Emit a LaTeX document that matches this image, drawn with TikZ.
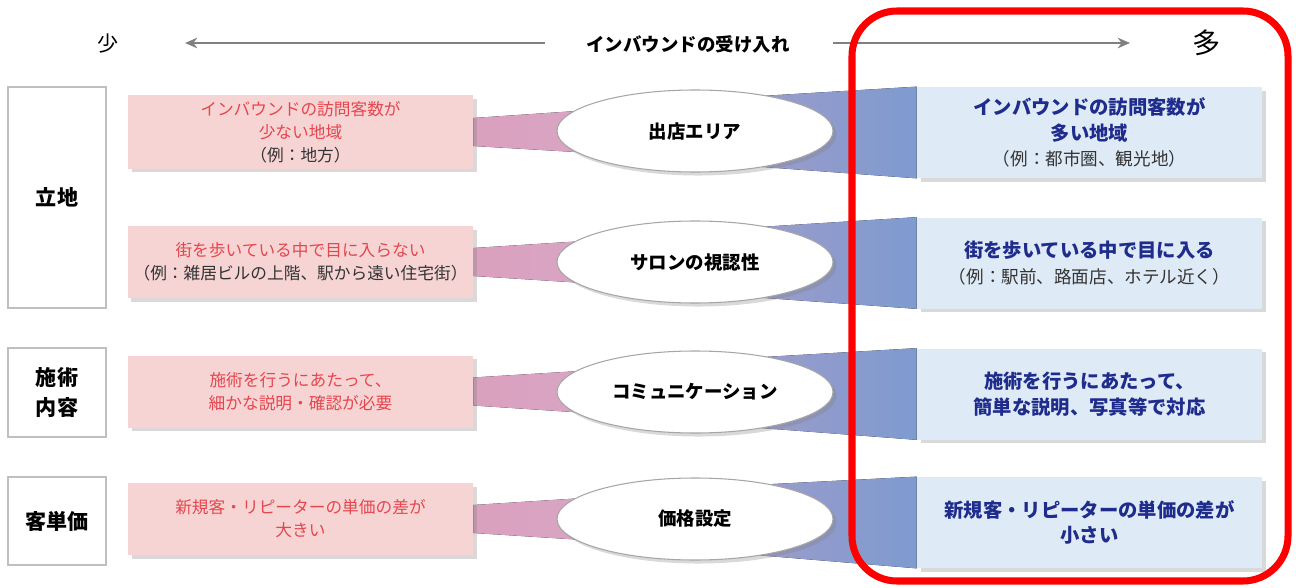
\documentclass[tikz,border=0pt]{standalone}
\usepackage{fontspec}
\setmainfont{Noto Sans CJK JP}
\usetikzlibrary{shapes.geometric,shadows,backgrounds,arrows.meta}
\definecolor{pinkfill}{HTML}{F6D4D4}
\definecolor{bluefill}{HTML}{DEEBF7}
\definecolor{redtext}{HTML}{E5464E}
\definecolor{navytext}{HTML}{1F2C8C}
\definecolor{exgray}{HTML}{333333}
\definecolor{sidegray}{HTML}{BFBFBF}
\definecolor{ovalgray}{HTML}{A6A6A6}
\definecolor{arrowgray}{HTML}{808080}
\definecolor{pinkbandL}{HTML}{DAA0BE}
\definecolor{pinkbandR}{HTML}{D8AACA}
\definecolor{bluebandL}{HTML}{A69CC8}
\definecolor{bluebandR}{HTML}{7E9BCF}
\definecolor{framered}{HTML}{FF0000}
\tikzset{
  sidebox/.style={draw=sidegray, line width=1.2pt, fill=white, minimum width=1.96cm,
    align=center, font=\fontsize{12}{17}\selectfont\bfseries},
  lowbox/.style={fill=pinkfill, minimum width=6.9cm, minimum height=1.44cm, align=center,
    text=redtext, font=\fontsize{9.5}{13}\selectfont,
    drop shadow={shadow xshift=2pt, shadow yshift=-2pt, opacity=0.3}},
  highbox/.style={fill=bluefill, minimum width=6.9cm, minimum height=1.82cm, align=center,
    text=navytext, font=\fontsize{11}{14.5}\selectfont\bfseries,
    drop shadow={shadow xshift=2pt, shadow yshift=-2pt, opacity=0.3}},
  factor/.style={ellipse, draw=ovalgray, line width=0.6pt, fill=white, minimum width=5.52cm,
    minimum height=1.64cm, inner sep=0pt, font=\fontsize{10.5}{13}\selectfont\bfseries,
    drop shadow={shadow xshift=2pt, shadow yshift=-2pt, opacity=0.3}},
  lowband/.style={left color=pinkbandL, right color=pinkbandR},
  highband/.style={left color=bluebandL, right color=bluebandR},
  scalearrow/.style={draw=arrowgray, line width=1.1pt, -{Stealth[length=7pt,width=6pt]}}
}
\newcommand{\exline}[1]{{\color{exgray}\fontsize{9.5}{12}\selectfont\mdseries #1}}
\newcommand{\exlinebig}[1]{{\color{exgray}\fontsize{10}{13}\selectfont\mdseries #1}}

\begin{document}
\begin{tikzpicture}
\useasboundingbox (0,0) rectangle (25.92,11.74);
\node[font=\fontsize{12}{14}\selectfont] (few) at (2.16,10.86) {少};
\node[font=\fontsize{10.5}{13}\selectfont\bfseries] (title) at (13.76,10.86) {インバウンドの受け入れ};
\node[font=\fontsize{16}{18}\selectfont] (many) at (24.14,10.88) {多};
\coordinate (lowstart) at (10.90,10.88);
\coordinate (lowtip) at (3.70,10.88);
\coordinate (highstart) at (16.66,10.88);
\coordinate (hightip) at (22.60,10.88);
\draw[scalearrow] (lowstart) -- (lowtip);
\draw[scalearrow] (highstart) -- (hightip);
\node[sidebox, minimum height=4.42cm] (s1) at (1.14,7.79) {立地};
\node[sidebox, minimum height=1.78cm] (s2) at (1.14,3.89) {施術\\内容};
\node[sidebox, minimum height=1.76cm] (s3) at (1.14,1.32) {客単価};
\node[lowbox] (l1) at (6.01,9.10) {インバウンドの訪問客数が\\少ない地域\\\exline{（例：地方）}};
\node[lowbox] (l2) at (6.01,6.50) {街を歩いている中で目に入らない\\\exline{（例：雑居ビルの上階、駅から遠い住宅街）}};
\node[lowbox] (l3) at (6.01,3.91) {施術を行うにあたって、\\細かな説明・確認が必要};
\node[lowbox] (l4) at (6.01,1.36) {新規客・リピーターの単価の差が\\大きい};
\node[factor] (f1) at (13.90,9.12) {出店エリア};
\node[factor] (f2) at (13.90,6.50) {サロンの視認性};
\node[factor] (f3) at (13.90,3.90) {コミュニケーション};
\node[factor] (f4) at (13.90,1.36) {価格設定};
\node[highbox] (h1) at (21.79,9.09) {インバウンドの訪問客数が\\多い地域\\\exlinebig{（例：都市圏、観光地）}};
\node[highbox] (h2) at (21.79,6.48) {街を歩いている中で目に入る\\\exlinebig{（例：駅前、路面店、ホテル近く）}};
\node[highbox] (h3) at (21.79,3.86) {施術を行うにあたって、\\簡単な説明、写真等で対応};
\node[highbox] (h4) at (21.79,1.29) {新規客・リピーターの単価の差が\\小さい};
\begin{scope}[on background layer]
\fill[lowband] ([yshift=0.28cm]l1.east) -- ([yshift=0.56cm]f1.center) -- ([yshift=-0.56cm]f1.center) -- ([yshift=-0.28cm]l1.east) -- cycle;
\fill[lowband] ([yshift=0.28cm]l2.east) -- ([yshift=0.56cm]f2.center) -- ([yshift=-0.56cm]f2.center) -- ([yshift=-0.28cm]l2.east) -- cycle;
\fill[lowband] ([yshift=0.28cm]l3.east) -- ([yshift=0.56cm]f3.center) -- ([yshift=-0.56cm]f3.center) -- ([yshift=-0.28cm]l3.east) -- cycle;
\fill[lowband] ([yshift=0.28cm]l4.east) -- ([yshift=0.56cm]f4.center) -- ([yshift=-0.56cm]f4.center) -- ([yshift=-0.28cm]l4.east) -- cycle;
\fill[highband] ([yshift=0.62cm]f1.center) -- (h1.north west) -- (h1.south west) -- ([yshift=-0.62cm]f1.center) -- cycle;
\fill[highband] ([yshift=0.62cm]f2.center) -- (h2.north west) -- (h2.south west) -- ([yshift=-0.62cm]f2.center) -- cycle;
\fill[highband] ([yshift=0.62cm]f3.center) -- (h3.north west) -- (h3.south west) -- ([yshift=-0.62cm]f3.center) -- cycle;
\fill[highband] ([yshift=0.62cm]f4.center) -- (h4.north west) -- (h4.south west) -- ([yshift=-0.62cm]f4.center) -- cycle;
\end{scope}
\draw[framered, line width=4pt, rounded corners=0.9cm] (17.04,0.12) rectangle (25.76,11.52);
\end{tikzpicture}
\end{document}
